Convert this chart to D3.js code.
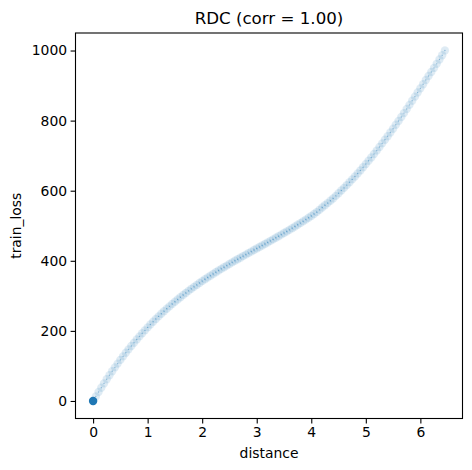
<!DOCTYPE html>
<html>
<head>
<meta charset="utf-8">
<script src="https://cdn.jsdelivr.net/npm/d3@7"></script>
<style>
  html, body { margin: 0; padding: 0; background: #fff; }
  svg { display: block; font-family: "DejaVu Sans", sans-serif; }
</style>
</head>
<body>
<svg id="chart" width="472" height="470"></svg>
<script>
const titleText = "RDC (corr = 1.00)";
const xLabel = "distance";
const yLabel = "train_loss";
const xTicks = [0, 1, 2, 3, 4, 5, 6];
const yTicks = [0, 200, 400, 600, 800, 1000];

const distance = [
  0.00, 0.05, 0.10, 0.15, 0.20, 0.25, 0.30, 0.35, 0.40, 0.45,
  0.50, 0.55, 0.60, 0.65, 0.70, 0.75, 0.80, 0.85, 0.90, 0.95,
  1.00, 1.05, 1.10, 1.15, 1.20, 1.25, 1.30, 1.35, 1.40, 1.45,
  1.50, 1.55, 1.60, 1.65, 1.70, 1.75, 1.80, 1.85, 1.90, 1.95,
  2.00, 2.05, 2.10, 2.15, 2.20, 2.25, 2.30, 2.35, 2.40, 2.45,
  2.50, 2.55, 2.60, 2.65, 2.70, 2.75, 2.80, 2.85, 2.90, 2.95,
  3.00, 3.05, 3.10, 3.15, 3.20, 3.25, 3.30, 3.35, 3.40, 3.45,
  3.50, 3.55, 3.60, 3.65, 3.70, 3.75, 3.80, 3.85, 3.90, 3.95,
  4.00, 4.05, 4.10, 4.15, 4.20, 4.25, 4.30, 4.35, 4.40, 4.45,
  4.50, 4.55, 4.60, 4.65, 4.70, 4.75, 4.80, 4.85, 4.90, 4.95,
  5.00, 5.05, 5.10, 5.15, 5.20, 5.25, 5.30, 5.35, 5.40, 5.45,
  5.50, 5.55, 5.60, 5.65, 5.70, 5.75, 5.80, 5.85, 5.90, 5.95,
  6.00, 6.05, 6.10, 6.15, 6.20, 6.25, 6.30, 6.35, 6.40, 6.45
];
const trainLoss = [
  0.0, 12.9, 25.6, 37.9, 50.1, 61.8, 73.5, 84.7, 95.9, 106.6,
  117.2, 127.4, 137.5, 147.3, 157.0, 166.3, 175.5, 184.4, 193.2, 201.6,
  210.0, 218.1, 226.1, 233.8, 241.4, 248.7, 256.0, 263.0, 270.0, 276.7,
  283.3, 289.7, 296.1, 302.2, 308.3, 314.2, 320.0, 325.6, 331.2, 336.6,
  342.0, 347.2, 352.4, 357.5, 362.5, 367.4, 372.2, 377.0, 381.7, 386.3,
  390.9, 395.5, 400.0, 404.5, 408.9, 413.3, 417.6, 422.0, 426.3, 430.7,
  435.0, 439.4, 443.7, 448.1, 452.4, 456.8, 461.1, 465.6, 470.0, 474.6,
  479.1, 483.7, 488.3, 493.1, 497.8, 502.7, 507.5, 512.6, 517.6, 522.8,
  528.0, 533.4, 538.8, 545.4, 552.0, 558.4, 564.7, 571.3, 577.9, 585.3,
  592.7, 600.4, 608.0, 616.0, 624.0, 632.3, 640.6, 649.3, 657.9, 667.0,
  676.0, 685.4, 694.8, 704.7, 714.5, 724.8, 735.1, 745.3, 755.5, 766.2,
  776.8, 788.0, 799.1, 810.3, 821.5, 833.2, 844.9, 856.7, 868.4, 880.2,
  892.0, 903.9, 915.8, 927.3, 938.8, 950.4, 962.0, 974.3, 986.6, 1000.0
];
const startPoint = { distance: 0.0, trainLoss: 0.0 };

const svg = d3.select("#chart");
const mLeft = 75.5, mRight = 462.5, mTop = 33, mBottom = 418.5;
const blue = "#1f77b4";

const xExt = d3.extent(distance), yExt = d3.extent(trainLoss);
const xPad = (xExt[1] - xExt[0]) * 0.05, yPad = (yExt[1] - yExt[0]) * 0.05;
const x = d3.scaleLinear().domain([xExt[0] - xPad, xExt[1] + xPad]).range([mLeft, mRight]);
const y = d3.scaleLinear().domain([yExt[0] - yPad, yExt[1] + yPad]).range([mBottom, mTop]);

const pts = distance.map((d, i) => ({ d, l: trainLoss[i] }));

const g = svg.append("g");
g.selectAll("circle.pt").data(pts).join("circle").attr("class", "pt")
  .attr("cx", p => x(p.d)).attr("cy", p => y(p.l)).attr("r", 4.2)
  .attr("fill", blue).attr("fill-opacity", 0.15)
  .attr("stroke", "#fff").attr("stroke-width", 0.6).attr("stroke-opacity", 0.2);
g.selectAll("circle.ctr").data(pts).join("circle").attr("class", "ctr")
  .attr("cx", p => x(p.d)).attr("cy", p => y(p.l)).attr("r", 0.7)
  .attr("fill", blue).attr("fill-opacity", 0.45);

svg.append("circle")
  .attr("cx", x(startPoint.distance)).attr("cy", y(startPoint.trainLoss)).attr("r", 4.2)
  .attr("fill", blue);

// axes
const xAxis = svg.append("g").attr("transform", `translate(0,${mBottom})`)
  .call(d3.axisBottom(x).tickValues(xTicks).tickSize(4.9).tickPadding(3.5).tickFormat(d3.format("d")));
const yAxis = svg.append("g").attr("transform", `translate(${mLeft},0)`)
  .call(d3.axisLeft(y).tickValues(yTicks).tickSize(4.9).tickPadding(3.5).tickFormat(d3.format("d")));
[xAxis, yAxis].forEach(ax => {
  ax.select(".domain").remove();
  ax.selectAll(".tick line").attr("stroke", "#000").attr("stroke-width", 1.1);
  ax.selectAll(".tick text").attr("fill", "#000").attr("font-size", 13.9)
    .attr("font-family", "DejaVu Sans, sans-serif");
});

// frame
svg.append("rect").attr("x", mLeft).attr("y", mTop)
  .attr("width", mRight - mLeft).attr("height", mBottom - mTop)
  .attr("fill", "none").attr("stroke", "#000").attr("stroke-width", 1.1);

svg.append("text").attr("x", (mLeft + mRight) / 2).attr("y", 24.3)
  .attr("text-anchor", "middle").attr("font-size", 16.67).attr("fill", "#000").text(titleText);
svg.append("text").attr("x", (mLeft + mRight) / 2).attr("y", 458.3)
  .attr("text-anchor", "middle").attr("font-size", 13.9).attr("fill", "#000").text(xLabel);
svg.append("text").attr("transform", `translate(20.5,${(mTop + mBottom) / 2}) rotate(-90)`)
  .attr("text-anchor", "middle").attr("font-size", 13.9).attr("fill", "#000").text(yLabel);
</script>
</body>
</html>
